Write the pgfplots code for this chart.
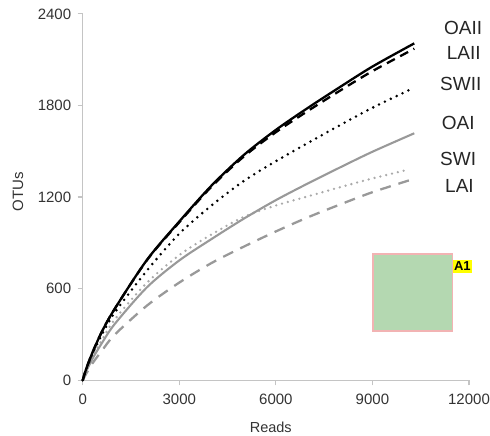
\documentclass[border=0pt]{standalone}
\usepackage{pgfplots}
\pgfplotsset{compat=1.18}
\usepackage{fontspec}
\setmainfont{Liberation Sans}
\definecolor{axgray}{HTML}{C4C4C4}
\definecolor{tickcol}{HTML}{333333}
\definecolor{gsolid}{HTML}{999999}
\definecolor{gdot}{HTML}{AAAAAA}
\definecolor{gdash}{HTML}{999999}
\definecolor{boxfill}{HTML}{B4D8B1}
\definecolor{boxedge}{HTML}{F2B3B3}
\definecolor{ylw}{HTML}{FFFF00}
\begin{document}
\begin{tikzpicture}
\begin{axis}[
  at={(0pt,0pt)}, anchor=south west,
  scale only axis, width=386.3pt, height=366.4pt,
  xmin=0, xmax=12000, ymin=0, ymax=2400,
  axis lines*=left,
  axis line style={axgray, line width=1.4pt},
  xtick={0,3000,6000,9000,12000},
  ytick={0,600,1200,1800,2400},
  tick align=outside,
  major tick length=5pt,
  tick style={axgray, line width=1.2pt},
  scaled ticks=false,
  /pgf/number format/assume math mode=true,
  /pgf/number format/1000 sep={},
  ticklabel style={font=\fontsize{15}{17}\selectfont, text=tickcol},
  xticklabel style={yshift=-5pt},
  yticklabel style={xshift=-3pt},
  clip=false,
]
% annotation box
\fill[boxfill] (axis cs:9020,321) rectangle (axis cs:11487,829);
\draw[boxedge, line width=1.6pt] (axis cs:9020,321) rectangle (axis cs:11487,829);
\node[fill=ylw, inner xsep=1pt, inner ysep=2pt, anchor=north west, font=\fontsize{13}{14}\selectfont\bfseries] at (axis cs:11500,792) {A1};

% LAI gray dashed
\addplot[gdash, line width=2.3pt, dash pattern=on 11pt off 8pt, smooth] coordinates {
(0,0) (100,40) (300,110) (600,195) (1000,300) (2000,490) (3000,640) (4000,768) (5000,875) (6000,975) (7000,1068) (8000,1152) (9000,1232) (10250,1317)};
% SWI gray dotted
\addplot[gdot, line width=2.6pt, line cap=round, dash pattern=on 0pt off 6pt, smooth] coordinates {
(0,0) (100,60) (300,155) (600,265) (1000,400) (2000,640) (3000,820) (4000,955) (5000,1070) (6000,1145) (7000,1205) (8000,1265) (9000,1322) (10150,1382)};
% OAI gray solid
\addplot[gsolid, line width=2.1pt, smooth] coordinates {
(0,0) (100,55) (300,140) (600,245) (1000,370) (2000,610) (3000,785) (4000,925) (5000,1058) (6000,1180) (7000,1290) (8000,1395) (9000,1497) (10300,1618)};
% SWII black dotted
\addplot[black, line width=2.8pt, line cap=round, dash pattern=on 0pt off 6.5pt, smooth] coordinates {
(0,0) (100,65) (300,170) (600,300) (1000,445) (2000,720) (3000,960) (4000,1145) (5000,1305) (6000,1435) (7000,1555) (8000,1672) (9000,1785) (10250,1912)};
% LAII black dashed
\addplot[black, line width=2.3pt, dash pattern=on 9pt off 6pt, smooth] coordinates {
(0,0) (100,70) (300,180) (600,320) (1000,470) (2000,788) (3000,1035) (4000,1268) (5000,1465) (6000,1625) (7000,1765) (8000,1898) (9000,2025) (10300,2172)};
% OAII black solid
\addplot[black, line width=2.3pt, smooth] coordinates {
(0,0) (100,70) (300,180) (600,320) (1000,470) (2000,790) (3000,1040) (4000,1275) (5000,1475) (6000,1640) (7000,1785) (8000,1922) (9000,2055) (10300,2207)};
\end{axis}
% axis labels
\node[font=\fontsize{14.5}{16}\selectfont, text=tickcol] at (188.1pt,-46.7pt) {Reads};
\node[font=\fontsize{15}{16}\selectfont, text=tickcol, rotate=90] at (-64.7pt,188.6pt) {OTUs};
% series labels (pixel positions relative to axis origin)
\begin{scope}[every node/.style={font=\fontsize{19}{20}\selectfont, text=black!85, anchor=west, inner sep=0pt}]
\node at (361.3pt, 352.5pt) {OAII};
\node at (364.0pt, 327.0pt) {LAII};
\node at (357.3pt, 296.3pt) {SWII};
\node at (359.0pt, 257.8pt) {OAI};
\node at (357.3pt, 221.3pt) {SWI};
\node at (362.3pt, 194.3pt) {LAI};
\end{scope}
\pgfresetboundingbox
\path[use as bounding box] (-82.7pt,-55.7pt) rectangle (407.3pt,380.3pt);
\end{tikzpicture}
\end{document}
